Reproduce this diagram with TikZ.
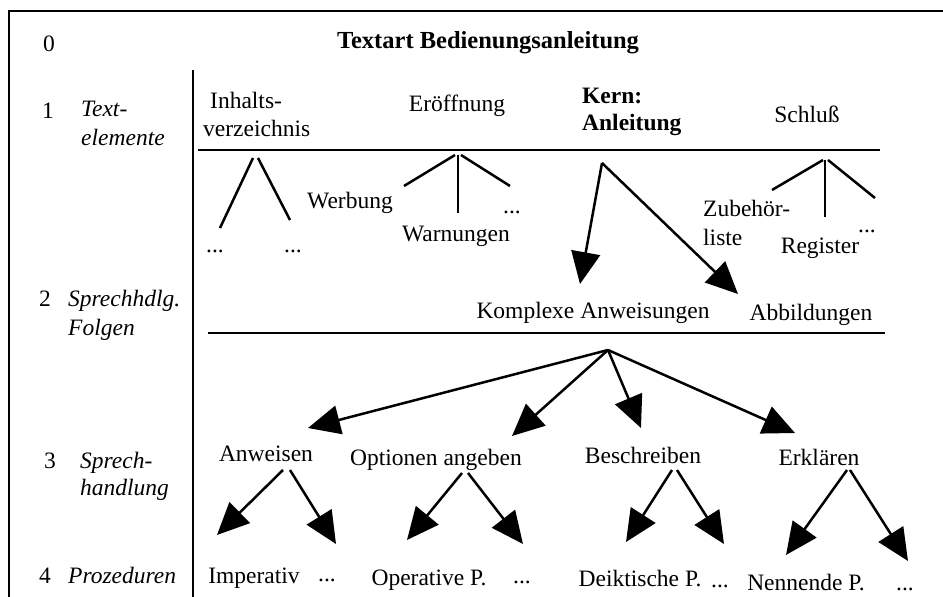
\documentclass[tikz,border=0pt]{standalone}
\usepackage{fontspec}
\setmainfont{Liberation Serif}
\usetikzlibrary{arrows.meta}
\begin{document}
\begin{tikzpicture}[x=1pt,y=-1pt,
  txt/.style={inner sep=0pt, font=\fontsize{23.5}{28}\selectfont, anchor=base},
  txtl/.style={txt, anchor=base west},
  lvl/.style={txtl, font=\fontsize{23.5}{28}\selectfont\itshape},
  boldtxt/.style={txtl, font=\fontsize{23.5}{28}\selectfont\bfseries},
  rule/.style={line width=2.8pt},
  branch/.style={line width=2.5pt},
  arr/.style={line width=2.5pt, -{Triangle[length=32pt,width=29pt]}}]
\useasboundingbox (0,0) rectangle (943,597);

% frame and dividing lines
\coordinate (frTL) at (9,11);
\coordinate (frTR) at (943,11);
\coordinate (frBL) at (9,597);
\draw[rule] (frBL) -- (frTL) -- (frTR);
\coordinate (vTop) at (193,70);
\coordinate (vBot) at (193,597);
\draw[rule] (vTop) -- (vBot);
\coordinate (h1L) at (198,150);
\coordinate (h1R) at (880,150);
\draw[rule] (h1L) -- (h1R);
\coordinate (h2L) at (208,333);
\coordinate (h2R) at (885,333);
\draw[rule] (h2L) -- (h2R);

% title and level labels
\node[txt] (l0) at (49,51) {0};
\node[txt, font=\fontsize{24.5}{30}\selectfont\bfseries] (title) at (488,48) {Textart Bedienungsanleitung};
\node[txt] (l1) at (48,118) {1};
\node[lvl] (l1a) at (81,116) {Text-};
\node[lvl] (l1b) at (81,145) {elemente};
\node[txt] (l2) at (45,306) {2};
\node[lvl] (l2a) at (68,306) {Sprechhdlg.};
\node[lvl] (l2b) at (68,335) {Folgen};
\node[txt] (l3) at (50,468) {3};
\node[lvl] (l3a) at (80,468) {Sprech-};
\node[lvl] (l3b) at (80,495) {handlung};
\node[txt] (l4) at (45,583) {4};
\node[lvl] (l4a) at (68,583) {Prozeduren};

% level 1: text elements
\node[txtl] (inh1) at (210,108) {Inhalts-};
\node[txtl] (inh2) at (203,136) {verzeichnis};
\node[txt] (eroeff) at (457,111) {Eröffnung};
\node[boldtxt] (kern1) at (582,103) {Kern:};
\node[boldtxt] (kern2) at (582,130) {Anleitung};
\node[txt] (schluss) at (807,122) {Schluß};

% level 2: sequences
\node[txt] (inhD1) at (215,252) {...};
\node[txt] (inhD2) at (293,252) {...};
\node[txt] (werbung) at (350,208) {Werbung};
\node[txt] (warnung) at (456,241) {Warnungen};
\node[txt] (eroD) at (512,213) {...};
\node[txtl] (zub1) at (703,216) {Zubehör-};
\node[txtl] (zub2) at (703,245) {liste};
\node[txt] (register) at (820,253) {Register};
\node[txt] (schD) at (867,232) {...};
\node[txt] (komplex) at (593,318) {Komplexe Anweisungen};
\node[txt] (abbild) at (811,320) {Abbildungen};

% level 3: speech acts
\node[txt] (anweisen) at (266,461) {Anweisen};
\node[txt] (optionen) at (436,465) {Optionen angeben};
\node[txt] (beschr) at (643,463) {Beschreiben};
\node[txt] (erkl) at (819,465) {Erklären};

% level 4: procedures
\node[txt] (imper) at (254,583) {Imperativ};
\node[txt] (imperD) at (327,581) {...};
\node[txt] (operat) at (429,585) {Operative P.};
\node[txt] (operatD) at (522,583) {...};
\node[txt] (deikt) at (640,586) {Deiktische P.};
\node[txt] (deiktD) at (720,587) {...};
\node[txt] (nenn) at (806,590) {Nennende P.};
\node[txt] (nennD) at (905,590) {...};

% plain branches below the text elements
\coordinate (inhA1) at (253,158);
\coordinate (inhA2) at (258,158);
\coordinate (inhE1) at (220,228);
\coordinate (inhE2) at (290,220);
\draw[branch] (inhA1) -- (inhE1);
\draw[branch] (inhA2) -- (inhE2);

\coordinate (eroA1) at (455,155);
\coordinate (eroA2) at (458,155);
\coordinate (eroA3) at (461,155);
\coordinate (eroE1) at (404,186);
\coordinate (eroE2) at (458,213);
\coordinate (eroE3) at (510,186);
\draw[branch] (eroA1) -- (eroE1);
\draw[branch] (eroA2) -- (eroE2);
\draw[branch] (eroA3) -- (eroE3);

\coordinate (schA1) at (823,160);
\coordinate (schA2) at (825,160);
\coordinate (schA3) at (828,160);
\coordinate (schE1) at (772,190);
\coordinate (schE2) at (825,217);
\coordinate (schE3) at (875,198);
\draw[branch] (schA1) -- (schE1);
\draw[branch] (schA2) -- (schE2);
\draw[branch] (schA3) -- (schE3);

% arrows from the core
\coordinate (kernA) at (602,163);
\coordinate (kernT1) at (580,284);
\coordinate (kernT2) at (738,294);
\draw[arr] (kernA) -- (kernT1);
\draw[arr] (kernA) -- (kernT2);

% arrows from the complex instructions
\coordinate (kompA) at (608,350);
\coordinate (kompT1) at (308,428);
\coordinate (kompT2) at (512,436);
\coordinate (kompT3) at (641,428);
\coordinate (kompT4) at (795,433);
\draw[arr] (kompA) -- (kompT1);
\draw[arr] (kompA) -- (kompT2);
\draw[arr] (kompA) -- (kompT3);
\draw[arr] (kompA) -- (kompT4);

% arrows from the speech acts to the procedures
\coordinate (anwA1) at (283,470);
\coordinate (anwA2) at (290,470);
\coordinate (anwT1) at (217,535);
\coordinate (anwT2) at (336,544);
\draw[arr] (anwA1) -- (anwT1);
\draw[arr] (anwA2) -- (anwT2);

\coordinate (optA1) at (462,473);
\coordinate (optA2) at (468,473);
\coordinate (optT1) at (407,540);
\coordinate (optT2) at (523,544);
\draw[arr] (optA1) -- (optT1);
\draw[arr] (optA2) -- (optT2);

\coordinate (besA1) at (672,470);
\coordinate (besA2) at (677,470);
\coordinate (besT1) at (626,542);
\coordinate (besT2) at (724,544);
\draw[arr] (besA1) -- (besT1);
\draw[arr] (besA2) -- (besT2);

\coordinate (erkA1) at (847,470);
\coordinate (erkA2) at (850,470);
\coordinate (erkT1) at (786,555);
\coordinate (erkT2) at (908,561);
\draw[arr] (erkA1) -- (erkT1);
\draw[arr] (erkA2) -- (erkT2);
\end{tikzpicture}
\end{document}
